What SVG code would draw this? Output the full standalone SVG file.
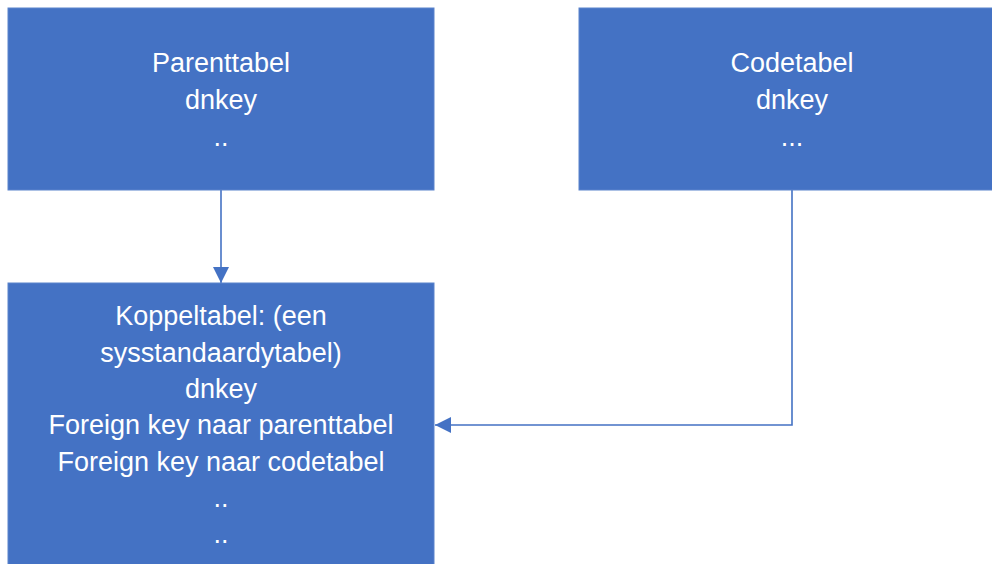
<svg xmlns="http://www.w3.org/2000/svg" width="992" height="564" viewBox="0 0 992 564">
<style>
.box{fill:#4472C4;stroke:#5B83CC;stroke-width:1}
.t{font-family:"Liberation Sans",Arial,sans-serif;font-size:27px;fill:#FFFFFF;text-anchor:middle}
.c{fill:none;stroke:#4472C4;stroke-width:1.6}
</style>
<defs>
<marker id="ah" viewBox="0 0 16 16" refX="16" refY="8" markerWidth="16" markerHeight="16" markerUnits="userSpaceOnUse" orient="auto">
<path d="M0,0 L16,8 L0,16 Z" fill="#4472C4"/>
</marker>
</defs>
<rect width="992" height="564" fill="#FFFFFF"/>
<g id="connectors">
<path class="c" d="M221,190 V283" marker-end="url(#ah)"/>
<path class="c" d="M792,190 V425 H435" marker-end="url(#ah)"/>
</g>
<g id="parenttabel">
<rect class="box" x="8" y="8" width="426" height="182"/>
<text class="t" x="221" y="72">Parenttabel</text>
<text class="t" x="221" y="109">dnkey</text>
<text class="t" x="221" y="146">..</text>
</g>
<g id="codetabel">
<rect class="box" x="579" y="8" width="426" height="182"/>
<text class="t" x="792" y="72">Codetabel</text>
<text class="t" x="792" y="109">dnkey</text>
<text class="t" x="792" y="146">...</text>
</g>
<g id="koppeltabel">
<rect class="box" x="8" y="283" width="426" height="290"/>
<text class="t" x="221" y="325">Koppeltabel: (een</text>
<text class="t" x="221" y="362">sysstandaardytabel)</text>
<text class="t" x="221" y="398">dnkey</text>
<text class="t" x="221" y="434">Foreign key naar parenttabel</text>
<text class="t" x="221" y="471">Foreign key naar codetabel</text>
<text class="t" x="221" y="507">..</text>
<text class="t" x="221" y="543">..</text>
</g>
</svg>
